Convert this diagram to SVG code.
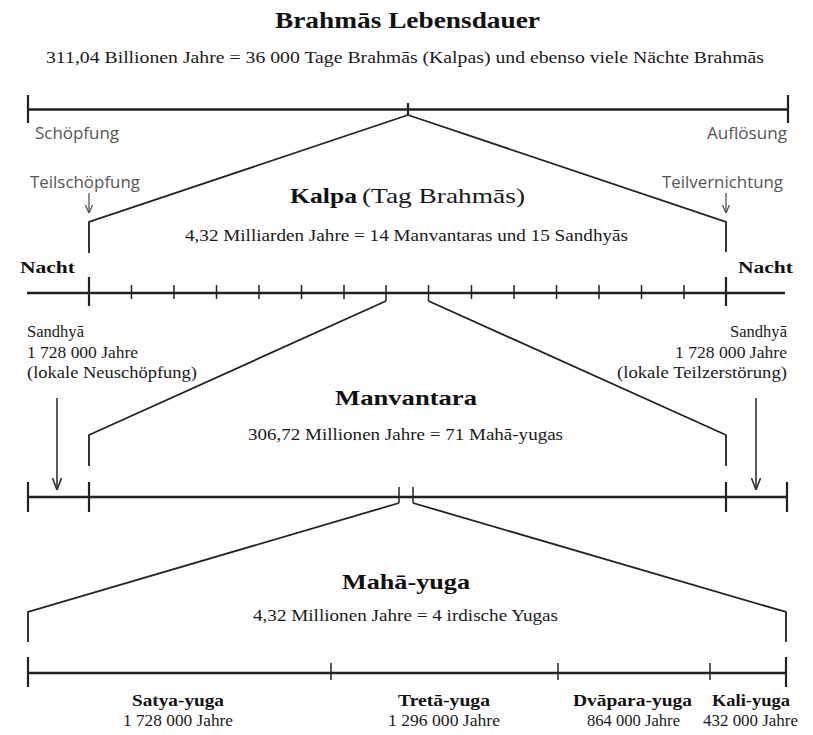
<svg xmlns="http://www.w3.org/2000/svg" width="813" height="735" viewBox="0 0 813 735">
<style>
.ax{stroke:#222;stroke-width:2.4;fill:none}
.tk{stroke:#222;stroke-width:2.2;fill:none}
.st{stroke:#222;stroke-width:1.5;fill:none}
.dg{stroke:#222;stroke-width:1.8;fill:none;stroke-linejoin:miter}
.ar{stroke:#333;stroke-width:1.6;fill:none}
.sa{stroke:#555;stroke-width:1.3;fill:none}
.s{font-family:"Liberation Serif","Times New Roman",serif;fill:#1a1a1a}
.b{font-family:"Liberation Serif","Times New Roman",serif;font-weight:bold;fill:#111}
.g{font-family:"Open Sans","Liberation Sans",sans-serif;fill:#555}
</style>
<defs>
<marker id="big" viewBox="0 0 12 10" refX="12" refY="5" markerWidth="12" markerHeight="10" markerUnits="userSpaceOnUse" orient="auto">
<path d="M0,0.5 L12,5 L0,9.5" fill="none" stroke="#333" stroke-width="1.6"/>
</marker>
<marker id="small" viewBox="0 0 8 8" refX="8" refY="4" markerWidth="8" markerHeight="8" markerUnits="userSpaceOnUse" orient="auto">
<path d="M0,0.5 L8,4 L0,7.5" fill="none" stroke="#555" stroke-width="1.3"/>
</marker>
</defs>
<rect width="813" height="735" fill="#fff"/>

<g id="brahma-life">
<text class="b" x="275" y="28" font-size="24" textLength="265" lengthAdjust="spacingAndGlyphs">Brahmās Lebensdauer</text>
<text class="s" x="46" y="63" font-size="16.5" textLength="718" lengthAdjust="spacingAndGlyphs">311,04 Billionen Jahre = 36 000 Tage Brahmās (Kalpas) und ebenso viele Nächte Brahmās</text>
<path class="ax" d="M28,109.5 H788"/>
<path class="tk" d="M28,95 V123 M788,95 V123 M408,103 V115"/>
<text class="g" x="35" y="139" font-size="16" textLength="84" lengthAdjust="spacingAndGlyphs">Schöpfung</text>
<text class="g" x="787" y="139" font-size="16" text-anchor="end" textLength="80" lengthAdjust="spacingAndGlyphs">Auflösung</text>
</g>

<g id="kalpa">
<text class="g" x="30" y="188" font-size="16" textLength="110" lengthAdjust="spacingAndGlyphs">Teilschöpfung</text>
<text class="g" x="662" y="188" font-size="16" textLength="121" lengthAdjust="spacingAndGlyphs">Teilvernichtung</text>
<text class="b" x="290" y="203" font-size="22" textLength="67" lengthAdjust="spacingAndGlyphs">Kalpa</text>
<text class="s" x="362" y="203" font-size="22" textLength="163" lengthAdjust="spacingAndGlyphs">(Tag Brahmās)</text>
<text class="s" x="185" y="241" font-size="16.5" textLength="443" lengthAdjust="spacingAndGlyphs">4,32 Milliarden Jahre = 14 Manvantaras und 15 Sandhyās</text>
<text class="b" x="20" y="273" font-size="17" textLength="55" lengthAdjust="spacingAndGlyphs">Nacht</text>
<text class="b" x="738" y="273" font-size="17" textLength="55" lengthAdjust="spacingAndGlyphs">Nacht</text>
<path class="ax" d="M27,293 H785"/>
<path class="tk" d="M89,277 V306 M726,277 V306"/>
<path class="st" d="M131.5,285 V299 M174,285 V299 M216.5,285 V299 M259,285 V299 M301.5,285 V299 M344,285 V299 M386,285 V301 M428.5,285 V301 M471.5,285 V299 M514,285 V299 M556.5,285 V299 M599,285 V299 M641.5,285 V299 M684,285 V299"/>
</g>

<g id="sandhya-left">
<text class="s" x="27" y="337" font-size="16.5" textLength="57" lengthAdjust="spacingAndGlyphs">Sandhyā</text>
<text class="s" x="27" y="358" font-size="16.5" textLength="111" lengthAdjust="spacingAndGlyphs">1 728 000 Jahre</text>
<text class="s" x="27" y="378" font-size="16.5" textLength="170" lengthAdjust="spacingAndGlyphs">(lokale Neuschöpfung)</text>
</g>

<g id="sandhya-right">
<text class="s" x="787" y="337" font-size="16.5" text-anchor="end" textLength="57" lengthAdjust="spacingAndGlyphs">Sandhyā</text>
<text class="s" x="787" y="358" font-size="16.5" text-anchor="end" textLength="112" lengthAdjust="spacingAndGlyphs">1 728 000 Jahre</text>
<text class="s" x="787" y="378" font-size="16.5" text-anchor="end" textLength="170" lengthAdjust="spacingAndGlyphs">(lokale Teilzerstörung)</text>
</g>

<g id="manvantara">
<text class="b" x="335" y="405" font-size="22" textLength="142" lengthAdjust="spacingAndGlyphs">Manvantara</text>
<text class="s" x="248" y="440" font-size="16.5" textLength="315" lengthAdjust="spacingAndGlyphs">306,72 Millionen Jahre = 71 Mahā-yugas</text>
<path class="ax" d="M28,497 H787"/>
<path class="tk" d="M28,482 V512 M89,482 V512 M726,482 V512 M787,482 V512"/>
<path class="st" d="M399,487 V503 M413,487 V503"/>
</g>

<g id="maha-yuga">
<text class="b" x="342" y="589" font-size="22" textLength="128" lengthAdjust="spacingAndGlyphs">Mahā-yuga</text>
<text class="s" x="253" y="621" font-size="16.5" textLength="305" lengthAdjust="spacingAndGlyphs">4,32 Millionen Jahre = 4 irdische Yugas</text>
<path class="ax" d="M28,673 H786"/>
<path class="tk" d="M28,657 V687 M786,657 V687"/>
<path class="st" d="M331,663 V680 M558,663 V680 M710,663 V680"/>
</g>

<g id="satya-yuga">
<text class="b" x="178" y="706" font-size="16" text-anchor="middle" textLength="92" lengthAdjust="spacingAndGlyphs">Satya-yuga</text>
<text class="s" x="178" y="726" font-size="16" text-anchor="middle" textLength="110" lengthAdjust="spacingAndGlyphs">1 728 000 Jahre</text>
</g>
<g id="treta-yuga">
<text class="b" x="444" y="706" font-size="16" text-anchor="middle" textLength="92" lengthAdjust="spacingAndGlyphs">Tretā-yuga</text>
<text class="s" x="444" y="726" font-size="16" text-anchor="middle" textLength="112" lengthAdjust="spacingAndGlyphs">1 296 000 Jahre</text>
</g>
<g id="dvapara-yuga">
<text class="b" x="632.5" y="706" font-size="16" text-anchor="middle" textLength="119" lengthAdjust="spacingAndGlyphs">Dvāpara-yuga</text>
<text class="s" x="633.5" y="726" font-size="16" text-anchor="middle" textLength="93" lengthAdjust="spacingAndGlyphs">864 000 Jahre</text>
</g>
<g id="kali-yuga">
<text class="b" x="751" y="706" font-size="16" text-anchor="middle" textLength="78" lengthAdjust="spacingAndGlyphs">Kali-yuga</text>
<text class="s" x="750.5" y="726" font-size="16" text-anchor="middle" textLength="95" lengthAdjust="spacingAndGlyphs">432 000 Jahre</text>
</g>

<g id="connectors">
<path class="dg" d="M408,115 L89,222 V253"/>
<path class="dg" d="M408,115 L726,222 V252"/>
<path class="dg" d="M386,301 L89,435 V466"/>
<path class="dg" d="M428.5,301 L726,435 V466"/>
<path class="dg" d="M399,503 L28,612 V642"/>
<path class="dg" d="M413,503 L786,612 V642"/>
<path class="sa" d="M89,193 V213" marker-end="url(#small)"/>
<path class="sa" d="M726,193 V213" marker-end="url(#small)"/>
<path class="ar" d="M57,398 V490" marker-end="url(#big)"/>
<path class="ar" d="M756,398 V490" marker-end="url(#big)"/>
</g>
</svg>
